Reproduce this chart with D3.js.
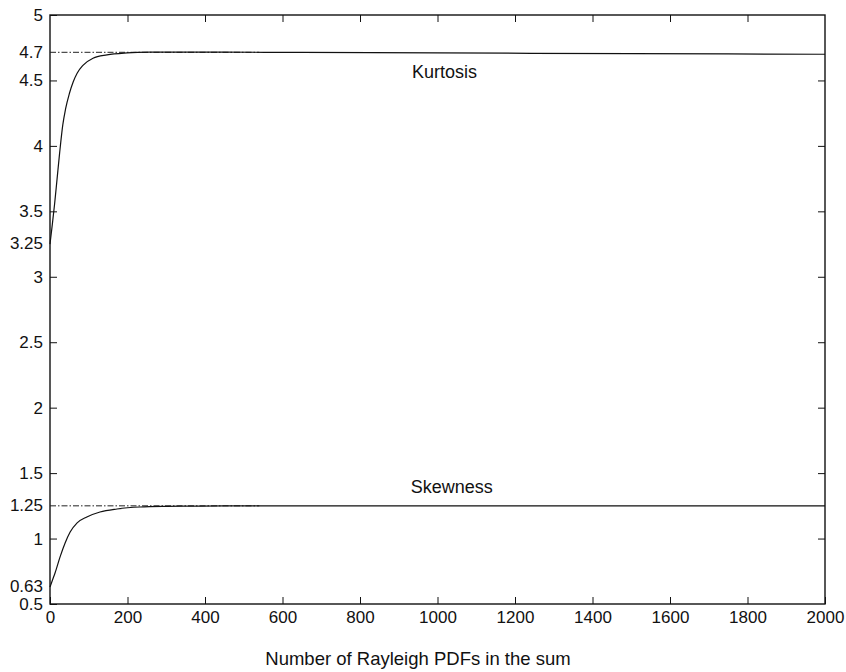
<!DOCTYPE html>
<html><head><meta charset="UTF-8">
<style type="text/css">
body { margin: 0; background: #fff; }
text { font-family: "Liberation Sans", Arial, Helvetica, sans-serif; fill: #111; }
.frame { fill: none; stroke: #111; stroke-width: 1.4; }
.tick line { stroke: #111; }
.curve { fill: none; stroke: #111; stroke-width: 1.2; }
.ref { fill: none; stroke: #222; stroke-width: 1; stroke-dasharray: 6,2,1.5,2; }
</style>
<script src="https://cdn.jsdelivr.net/npm/d3@7"></script>
</head><body>
<div id="chart"></div>
<script>
// values
var kurtN   = [0, 6, 12, 18, 25, 33, 40, 50, 60, 70, 85, 111, 147, 199, 258, 320, 450, 650, 1000, 1500, 2000];
var kurtVal = [3.25, 3.40, 3.56, 3.74, 3.95, 4.16, 4.28, 4.40, 4.49, 4.555, 4.615, 4.67, 4.695, 4.71, 4.716, 4.717, 4.716, 4.714, 4.71, 4.705, 4.70];
var skewN   = [0, 6, 13, 26, 39, 52, 70, 95, 129, 173, 232, 302, 387, 500, 1000, 2000];
var skewVal = [0.63, 0.68, 0.737, 0.86, 0.966, 1.05, 1.12, 1.165, 1.203, 1.226, 1.241, 1.246, 1.248, 1.25, 1.25, 1.25];

var refN = [0, 540];
var refKurt = 4.715, refSkew = 1.25;

var xTicks = [0, 200, 400, 600, 800, 1000, 1200, 1400, 1600, 1800, 2000];
var yTicks = [0.5, 1, 1.5, 2, 2.5, 3, 3.5, 4, 4.5, 5];
var yExtra = [0.63, 1.25, 3.25, 4.715];
var yExtraLabels = ["0.63", "1.25", "3.25", "4.7"];

var margin = {top: 15, right: 21, bottom: 68, left: 50},
    W = 846, H = 672,
    width = W - margin.left - margin.right,
    height = H - margin.top - margin.bottom;

var svg = d3.select("#chart").append("svg")
    .attr("width", W).attr("height", H)
  .append("g")
    .attr("transform", "translate(" + margin.left + "," + margin.top + ")");

var x = d3.scaleLinear().domain([0, 2000]).range([0, width]);
var y = d3.scaleLinear().domain([0.5, 5]).range([height, 0]);

// axes with inward ticks on all four sides
svg.append("g").attr("transform", "translate(0," + height + ")")
    .call(d3.axisBottom(x).tickValues(xTicks).tickSize(-7).tickPadding(7).tickFormat(d3.format("d")))
    .call(g => g.select(".domain").remove())
    .selectAll("text").style("font-size", "17px");
svg.append("g")
    .call(d3.axisTop(x).tickValues(xTicks.slice(1, -1)).tickSize(-7).tickFormat(""))
    .call(g => g.select(".domain").remove());
svg.append("g")
    .call(d3.axisLeft(y).tickValues(yTicks).tickSize(-7).tickPadding(7).tickFormat(d3.format("~g")))
    .call(g => g.select(".domain").remove())
    .selectAll("text").style("font-size", "17px");
svg.append("g").attr("transform", "translate(" + width + ",0)")
    .call(d3.axisRight(y).tickValues(yTicks.slice(1, -1)).tickSize(-7).tickFormat(""))
    .call(g => g.select(".domain").remove());

// extra labels without tick marks
svg.selectAll(".extra").data(yExtra).enter().append("text")
    .attr("class", "extra")
    .attr("x", -7)
    .attr("y", d => y(d))
    .attr("dy", "0.32em")
    .attr("text-anchor", "end")
    .style("font-size", "17px")
    .text((d, i) => yExtraLabels[i]);

svg.append("rect").attr("class", "frame")
    .attr("width", width).attr("height", height);

// reference dash-dot lines
[refKurt, refSkew].forEach(v => {
  svg.append("path").attr("class", "ref")
    .attr("d", d3.line()(refN.map(n => [x(n), y(v)])));
});

var line = d3.line().x(d => x(d[0])).y(d => y(d[1])).curve(d3.curveMonotoneX);
svg.append("path").attr("class", "curve").attr("d", line(d3.zip(kurtN, kurtVal)));
svg.append("path").attr("class", "curve").attr("d", line(d3.zip(skewN, skewVal)));

svg.append("text").attr("x", x(934)).attr("y", 63)
    .style("font-size", "18px").text("Kurtosis");
svg.append("text").attr("x", x(931)).attr("y", 478)
    .style("font-size", "18px").text("Skewness");

svg.append("text").attr("x", 368).attr("y", height + 61)
    .attr("text-anchor", "middle")
    .style("font-size", "18.5px")
    .text("Number of Rayleigh PDFs in the sum");
</script>
</body></html>
